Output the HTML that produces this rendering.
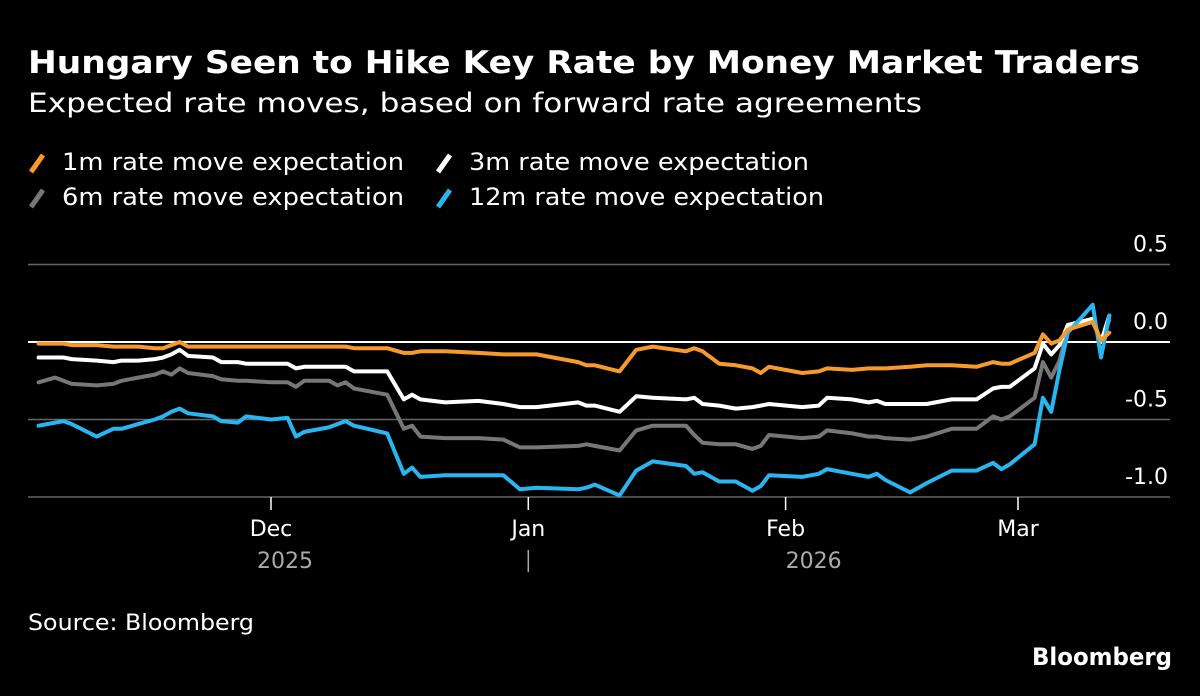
<!DOCTYPE html>
<html><head><meta charset="utf-8"><style>
html,body{margin:0;padding:0;background:#000;}
svg{display:block;font-family:"DejaVu Sans","Liberation Sans",sans-serif;}
</style></head><body>
<svg id="chart" width="1200" height="696" viewBox="0 0 1200 696" xmlns="http://www.w3.org/2000/svg">
<rect width="1200" height="696" fill="#000"/>
<text x="28" y="73" fill="#fff" font-size="31" font-weight="bold" textLength="1112" lengthAdjust="spacingAndGlyphs">Hungary Seen to Hike Key Rate by Money Market Traders</text>
<text x="28" y="112" fill="#fff" font-size="27" textLength="894" lengthAdjust="spacingAndGlyphs">Expected rate moves, based on forward rate agreements</text>
<g font-size="24" fill="#fff">
 <g><line x1="31" y1="172" x2="43" y2="155" stroke="#f79a2c" stroke-width="5"/><text x="62" y="170" textLength="342" lengthAdjust="spacingAndGlyphs">1m rate move expectation</text></g>
 <g><line x1="438" y1="172" x2="450" y2="155" stroke="#fff" stroke-width="5"/><text x="469" y="170" textLength="340" lengthAdjust="spacingAndGlyphs">3m rate move expectation</text></g>
 <g><line x1="31" y1="207" x2="43" y2="190" stroke="#777" stroke-width="5"/><text x="62" y="205" textLength="342" lengthAdjust="spacingAndGlyphs">6m rate move expectation</text></g>
 <g><line x1="438" y1="207" x2="450" y2="190" stroke="#29b6f0" stroke-width="5"/><text x="469" y="205" textLength="355" lengthAdjust="spacingAndGlyphs">12m rate move expectation</text></g>
</g>
<g id="grid"></g>
<g id="xaxis"></g>
<g id="series"></g>
<text x="28" y="630" fill="#fff" font-size="22" textLength="226" lengthAdjust="spacingAndGlyphs">Source: Bloomberg</text>
<text x="1172" y="665" fill="#fff" font-size="24" font-weight="bold" text-anchor="end" textLength="140" lengthAdjust="spacingAndGlyphs">Bloomberg</text>
</svg>
<script>
const dates = ["2025-11-03","2025-11-05","2025-11-06","2025-11-07","2025-11-10","2025-11-12","2025-11-13","2025-11-15","2025-11-17","2025-11-18","2025-11-19","2025-11-20","2025-11-21","2025-11-24","2025-11-25","2025-11-27","2025-11-28","2025-12-01","2025-12-03","2025-12-04","2025-12-05","2025-12-08","2025-12-09","2025-12-10","2025-12-11","2025-12-15","2025-12-17","2025-12-18","2025-12-19","2025-12-22","2025-12-26","2025-12-29","2025-12-31","2026-01-02","2026-01-07","2026-01-08","2026-01-09","2026-01-12","2026-01-14","2026-01-16","2026-01-20","2026-01-21","2026-01-22","2026-01-24","2026-01-26","2026-01-28","2026-01-29","2026-01-30","2026-02-03","2026-02-05","2026-02-06","2026-02-09","2026-02-11","2026-02-12","2026-02-13","2026-02-16","2026-02-18","2026-02-21","2026-02-24","2026-02-26","2026-02-27","2026-02-28","2026-03-03","2026-03-04","2026-03-05","2026-03-06","2026-03-07","2026-03-10","2026-03-11","2026-03-12"];
const m1 = [-0.01,-0.01,-0.01,-0.02,-0.02,-0.03,-0.03,-0.03,-0.04,-0.04,-0.02,0.0,-0.03,-0.03,-0.03,-0.03,-0.03,-0.03,-0.03,-0.03,-0.03,-0.03,-0.03,-0.03,-0.04,-0.04,-0.07,-0.07,-0.06,-0.06,-0.07,-0.08,-0.08,-0.08,-0.13,-0.15,-0.15,-0.19,-0.05,-0.03,-0.06,-0.04,-0.06,-0.14,-0.15,-0.17,-0.2,-0.16,-0.2,-0.19,-0.17,-0.18,-0.17,-0.17,-0.17,-0.16,-0.15,-0.15,-0.16,-0.13,-0.14,-0.14,-0.07,0.05,-0.01,0.01,0.08,0.13,0.01,0.06];
const m3 = [-0.10,-0.10,-0.10,-0.11,-0.12,-0.13,-0.12,-0.12,-0.11,-0.10,-0.08,-0.05,-0.09,-0.10,-0.13,-0.13,-0.14,-0.14,-0.14,-0.17,-0.16,-0.16,-0.16,-0.16,-0.19,-0.19,-0.37,-0.34,-0.37,-0.39,-0.38,-0.40,-0.42,-0.42,-0.39,-0.41,-0.41,-0.45,-0.35,-0.36,-0.37,-0.36,-0.40,-0.41,-0.43,-0.42,-0.41,-0.40,-0.42,-0.41,-0.36,-0.37,-0.39,-0.38,-0.40,-0.40,-0.40,-0.37,-0.37,-0.30,-0.29,-0.29,-0.17,-0.01,-0.08,-0.02,0.11,0.15,0.0,0.17];
const m6 = [-0.26,-0.23,-0.25,-0.27,-0.28,-0.27,-0.25,-0.23,-0.21,-0.19,-0.21,-0.17,-0.20,-0.22,-0.24,-0.25,-0.25,-0.26,-0.26,-0.29,-0.25,-0.25,-0.28,-0.26,-0.30,-0.34,-0.56,-0.54,-0.61,-0.62,-0.62,-0.63,-0.68,-0.68,-0.67,-0.66,-0.67,-0.70,-0.57,-0.54,-0.54,-0.60,-0.65,-0.66,-0.66,-0.69,-0.67,-0.60,-0.62,-0.61,-0.57,-0.59,-0.61,-0.61,-0.62,-0.63,-0.61,-0.56,-0.56,-0.48,-0.50,-0.48,-0.36,-0.13,-0.23,-0.12,0.09,0.14,0.0,0.14];
const m12 = [-0.54,-0.52,-0.51,-0.53,-0.61,-0.56,-0.56,-0.53,-0.50,-0.48,-0.45,-0.43,-0.46,-0.48,-0.51,-0.52,-0.48,-0.50,-0.49,-0.61,-0.58,-0.55,-0.53,-0.51,-0.54,-0.59,-0.85,-0.81,-0.87,-0.86,-0.86,-0.86,-0.95,-0.94,-0.95,-0.94,-0.92,-0.99,-0.83,-0.77,-0.80,-0.85,-0.84,-0.90,-0.90,-0.96,-0.93,-0.86,-0.87,-0.85,-0.82,-0.85,-0.87,-0.85,-0.89,-0.97,-0.91,-0.83,-0.83,-0.78,-0.82,-0.79,-0.66,-0.36,-0.45,-0.18,0.06,0.24,-0.10,0.17];
const yTicks = [0.5, 0.0, -0.5, -1.0];
const yTickLabels = ["0.5","0.0","-0.5","-1.0"];
const monthTicks = ["2025-12-01","2026-01-01","2026-02-01","2026-03-01"];
const monthLabels = ["Dec","Jan","Feb","Mar"];

const NS = "http://www.w3.org/2000/svg";
const t0 = Date.UTC(2025,10,1);
function dayOf(s){const p=s.split("-");return (Date.UTC(+p[0],+p[1]-1,+p[2])-t0)/86400000;}
function xScale(s){return 271 + (dayOf(s)-30)*8.3;}
function yScale(v){return 342 - v*155;}
function mk(tag, attrs, parent){const e=document.createElementNS(NS,tag);for(const k in attrs)e.setAttribute(k,attrs[k]);parent.appendChild(e);return e;}

const grid=document.getElementById("grid");
yTicks.forEach((v,i)=>{
  const ln=mk("line",{x1:28,x2:1170,y1:yScale(v),y2:yScale(v),stroke:v===0?"#fff":"#666","stroke-width":v===0?2:1.5},grid);
  
  
  const t=mk("text",{x:1168,y:yScale(v)-13,fill:"#fff","font-size":22,"text-anchor":"end"},grid);
  t.textContent=yTickLabels[i];
  
  
});
const xa=document.getElementById("xaxis");
monthTicks.forEach((d,i)=>{
  const x=xScale(d);
  const tk=mk("line",{x1:x,x2:x,y1:497,y2:510,stroke:"#fff","stroke-width":1.5},xa);
  
  
  const t=mk("text",{x:x,y:536,fill:"#fff","font-size":22,"text-anchor":"middle"},xa);
  t.textContent=monthLabels[i];
  
  
});
[["2025",xScale("2025-12-01")+14],["2026",xScale("2026-02-01")+28]].forEach(a=>{
  const t=mk("text",{x:a[1],y:568,fill:"#aaa","font-size":22,"text-anchor":"middle"},xa);
  t.textContent=a[0];
  
  
});
const yb=mk("line",{x1:xScale("2026-01-01"),x2:xScale("2026-01-01"),y1:550,y2:572,stroke:"#aaa","stroke-width":1.5},xa);



const sg=document.getElementById("series");
[[m6,"#777","line-6m"],[m3,"#fff","line-3m"],[m12,"#29b6f0","line-12m"],[m1,"#f79a2c","line-1m"]].forEach(s=>{
  const pts=dates.map((d,i)=>xScale(d).toFixed(1)+","+yScale(s[0][i]).toFixed(1)).join(" ");
  const pl=mk("polyline",{points:pts,fill:"none",stroke:s[1],"stroke-width":4,"stroke-linejoin":"round","stroke-linecap":"round"},sg);
  
  
});
</script>
</body></html>
